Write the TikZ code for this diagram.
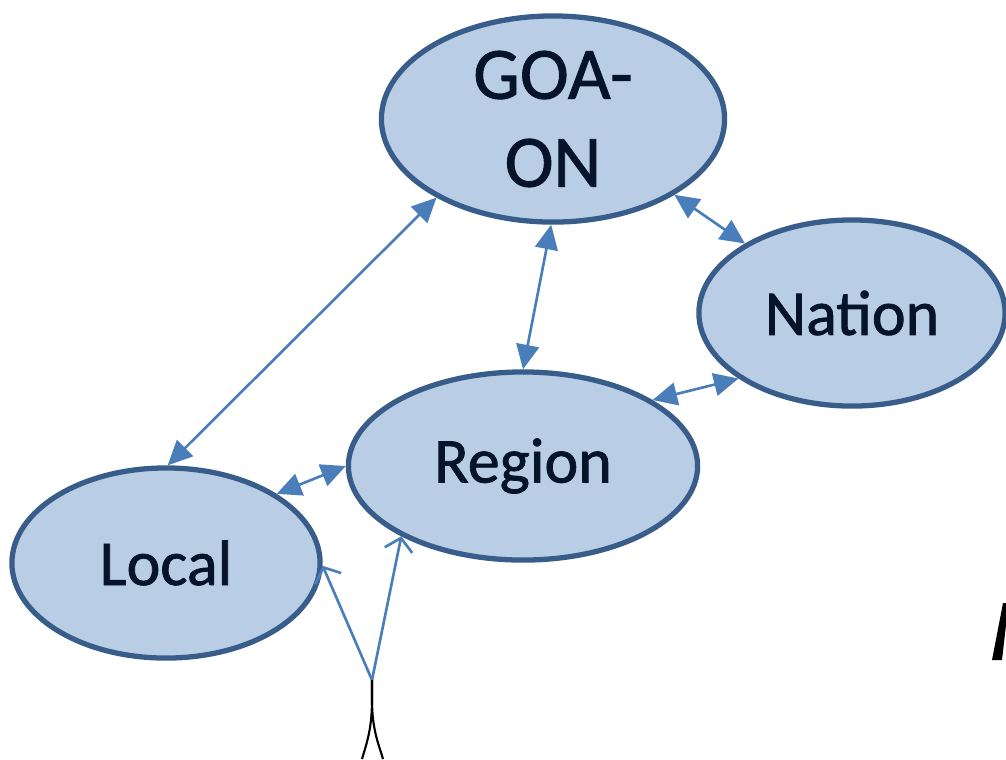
\documentclass[tikz,border=0pt]{standalone}
\usepackage{fontspec}
\setmainfont{Carlito}
\newfontfamily\boldish[FakeBold=1.2]{Carlito}
\usetikzlibrary{shapes.geometric,arrows.meta}

\definecolor{fillblue}{HTML}{B9CDE5}
\definecolor{rimblue}{HTML}{385D8A}
\definecolor{lineblue}{HTML}{4A7EBB}
\definecolor{inkblue}{HTML}{06142A}

\tikzset{
    place/.style={ellipse, draw=rimblue, fill=fillblue, line width=1.5pt, inner sep=0pt,
        text=inkblue, font=\boldish\fontsize{18.2}{24}\selectfont},
    link/.style={draw=lineblue, line width=0.75pt, {Triangle[length=7pt,width=6.5pt]}-{Triangle[length=7pt,width=6.5pt]}},
    feed/.style={draw=lineblue, line width=0.75pt, -{Straight Barb[length=3.5pt,width=8pt]}}
}

\begin{document}
\begin{tikzpicture}[x=0.01cm, y=-0.01cm]
        \useasboundingbox (0,0) rectangle (1006,759);

        % the four levels
        \node[place, minimum width=3.43cm, minimum height=2.06cm, align=center,
            font=\boldish\fontsize{21}{25}\selectfont] (goa) at (553,119) {GOA-\\ON};
        \node[place, minimum width=3.06cm, minimum height=1.86cm] (nation) at (852,313) {Nation};
        \node[place, minimum width=3.49cm, minimum height=1.88cm] (region) at (523,466) {Region};
        \node[place, minimum width=3.08cm, minimum height=1.90cm] (local) at (166,563) {Local};

        % two way links
        \draw[link] (goa.214) -- (local.89);
        \draw[link] (goa.269) -- (region.90);
        \draw[link] (goa.-32) -- (nation.147);
        \draw[link] (nation.210) -- (region.27);
        \draw[link] (region.180) -- (local.32);

        % input from below
        \coordinate (base) at (372,680);
        \draw[feed] (base) -- (local.-1);
        \draw[feed] (base) -- (region.210);
        \draw[black, line width=0.6pt] (base) -- (372,700) .. controls (372,730) and (366,745) .. (362,759);
        \draw[black, line width=0.6pt] (base) -- (372,700) .. controls (372,730) and (379,745) .. (383,759);

        % cut off stroke at the right edge
        \fill[black] (992,660) -- (1002,660) -- (1006,625) -- (1006,603) -- (1003,603) -- cycle;
\end{tikzpicture}
\end{document}
